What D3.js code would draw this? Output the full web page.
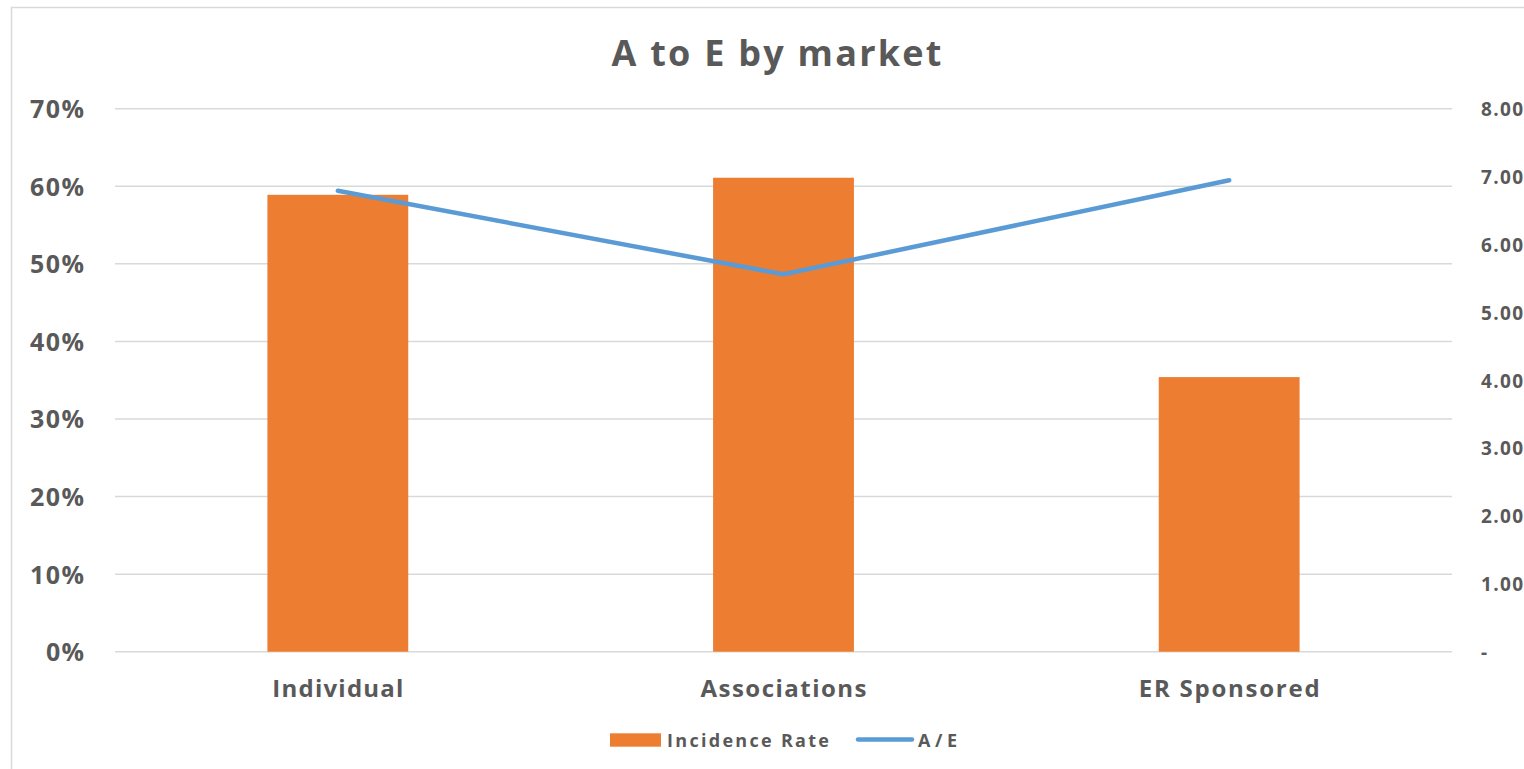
<!DOCTYPE html>
<html>
<head>
<meta charset="utf-8">
<script src="https://cdn.jsdelivr.net/npm/d3@7"></script>
<style>
  html, body { margin: 0; padding: 0; background: #fff; }
  svg { display: block; }
  text { font-family: "Open Sans", "DejaVu Sans", sans-serif; font-weight: 700; fill: #595959; }
</style>
</head>
<body>
<svg id="chart" width="1524" height="769"></svg>
<script>
// Markets shown on the category axis
const markets = ["Individual", "Associations", "ER Sponsored"];
// Incidence rate per market (left axis, share)
const incidenceRate = [0.589, 0.611, 0.354];
// Actual-to-expected ratio per market (right axis)
const aeRatio = [6.79, 5.56, 6.945];
// Tick values for both value axes
const leftTicks = [0, 0.1, 0.2, 0.3, 0.4, 0.5, 0.6, 0.7];
const rightTicks = [0, 1, 2, 3, 4, 5, 6, 7, 8];

const svg = d3.select("#chart");
const W = 1524, H = 769;
const plot = { left: 115, right: 1452, top: 108.7, bottom: 651.7 };

const orange = "#ED7D31", blue = "#5B9BD5", grid = "#D9D9D9";

// Stretch a text's letter spacing so it spans the given width
function spread(sel, widthOf) {
  sel.each(function (d, i) {
    const w = widthOf(d, i, this);
    if (w) d3.select(this).attr("textLength", w).attr("lengthAdjust", "spacing");
  });
}

// Chart area frame
svg.append("rect")
  .attr("x", 11.5).attr("y", 7.5)
  .attr("width", W + 20).attr("height", H + 20)
  .attr("fill", "#fff").attr("stroke", "#D9D9D9").attr("stroke-width", 1.5);

const x = d3.scaleBand().domain(markets).range([plot.left, plot.right]).padding(0);
const yL = d3.scaleLinear().domain([0, 0.7]).range([plot.bottom, plot.top]);
const yR = d3.scaleLinear().domain([0, 8]).range([plot.bottom, plot.top]);

// Gridlines
svg.append("g").selectAll("line").data(leftTicks).join("line")
  .attr("x1", plot.left).attr("x2", plot.right)
  .attr("y1", d => yL(d)).attr("y2", d => yL(d))
  .attr("stroke", grid).attr("stroke-width", 1.5);

// Left axis labels
const leftAxis = d3.axisLeft(yL).tickValues(leftTicks)
  .tickFormat(d3.format(".0%")).tickSize(0).tickPadding(31);
const gL = svg.append("g").attr("transform", `translate(${plot.left},0)`).call(leftAxis);
gL.select(".domain").remove();
gL.selectAll("text").attr("font-size", 25).attr("fill", "#595959")
  .attr("font-family", null).attr("dy", "0.36em")
  .call(spread, d => d === 0 ? 38 : 54);

// Right axis labels
const rightAxis = d3.axisRight(yR).tickValues(rightTicks)
  .tickFormat(d => d === 0 ? "-" : d3.format(".2f")(d)).tickSize(0).tickPadding(29);
const gR = svg.append("g").attr("transform", `translate(${plot.right},0)`).call(rightAxis);
gR.select(".domain").remove();
gR.selectAll("text").attr("font-size", 19).attr("fill", "#595959")
  .attr("font-family", null).attr("dy", "0.36em")
  .call(spread, d => d === 0 ? 0 : 42);

// Bars
const barW = x.bandwidth() * 0.316;
svg.append("g").selectAll("rect").data(markets).join("rect")
  .attr("x", d => x(d) + x.bandwidth() / 2 - barW / 2)
  .attr("width", barW)
  .attr("y", (d, i) => yL(incidenceRate[i]))
  .attr("height", (d, i) => yL(0) - yL(incidenceRate[i]))
  .attr("fill", orange);

// A/E line
const line = d3.line()
  .x((d, i) => x(markets[i]) + x.bandwidth() / 2)
  .y(d => yR(d));
svg.append("path").datum(aeRatio)
  .attr("d", line).attr("fill", "none")
  .attr("stroke", blue).attr("stroke-width", 4.5)
  .attr("stroke-linecap", "round").attr("stroke-linejoin", "round");

// Category axis labels
const catWidths = [131, 166, 181];
const gX = svg.append("g").attr("transform", `translate(0,${plot.bottom})`)
  .call(d3.axisBottom(x).tickSize(0).tickPadding(0));
gX.select(".domain").remove();
gX.selectAll("text").attr("font-size", 24).attr("fill", "#595959")
  .attr("font-family", null).attr("dy", null).attr("y", 45)
  .call(spread, (d, i) => catWidths[i]);

// Title
svg.append("text").attr("x", 776.5).attr("y", 65.7)
  .attr("text-anchor", "middle").attr("font-size", 36)
  .attr("textLength", 330).attr("lengthAdjust", "spacing")
  .text("A to E by market");

// Legend
const lg = svg.append("g");
lg.append("rect").attr("x", 610).attr("y", 733.3).attr("width", 51).attr("height", 13.4).attr("fill", orange);
lg.append("text").attr("x", 667).attr("y", 746.7).attr("font-size", 18)
  .attr("textLength", 162).attr("lengthAdjust", "spacing").text("Incidence Rate");
lg.append("line").attr("x1", 858).attr("x2", 912).attr("y1", 739.5).attr("y2", 739.5)
  .attr("stroke", blue).attr("stroke-width", 4.5).attr("stroke-linecap", "round");
lg.append("text").attr("x", 918).attr("y", 746.7).attr("font-size", 18)
  .attr("textLength", 39).attr("lengthAdjust", "spacing").text("A/E");
</script>
</body>
</html>
